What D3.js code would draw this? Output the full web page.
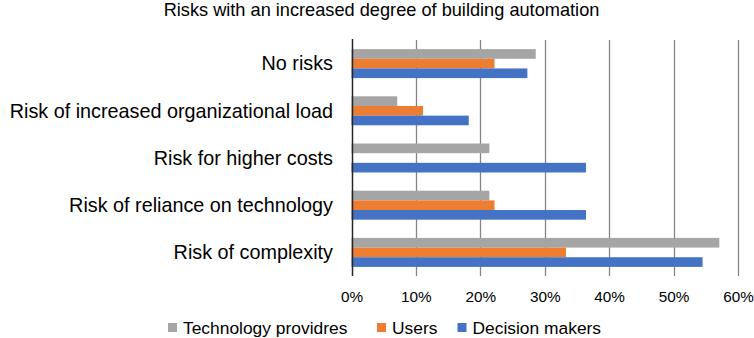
<!DOCTYPE html>
<html>
<head>
<meta charset="utf-8">
<script src="https://cdn.jsdelivr.net/npm/d3@7"></script>
<style>
  html, body { margin: 0; padding: 0; background: #fff; }
  svg { display: block; font-family: "Liberation Sans", Arial, sans-serif; }
</style>
</head>
<body>
<svg id="chart" width="754" height="338"></svg>
<script>
const title = "Risks with an increased degree of building automation";
const categories = [
  "No risks",
  "Risk of increased organizational load",
  "Risk for higher costs",
  "Risk of reliance on technology",
  "Risk of complexity"
];
const seriesNames = ["Technology providres", "Users", "Decision makers"];
const seriesColors = ["#A5A5A5", "#ED7D31", "#4472C4"];
const technologyProviders = [0.286, 0.071, 0.214, 0.214, 0.571];
const users = [0.222, 0.111, 0.0, 0.222, 0.333];
const decisionMakers = [0.273, 0.182, 0.364, 0.364, 0.545];
const tickValues = [0, 0.1, 0.2, 0.3, 0.4, 0.5, 0.6];

const seriesValues = [technologyProviders, users, decisionMakers];

const svg = d3.select("#chart");
const plot = { left: 351.5, right: 738, top: 40, bottom: 276 };

const x = d3.scaleLinear().domain([0, 0.6]).range([plot.left, plot.right]);
const y = d3.scaleBand().domain(categories).range([plot.top, plot.bottom])
  .paddingInner(0.386).paddingOuter(0.193);
const ySub = d3.scaleBand().domain(seriesNames).range([0, y.bandwidth()]);

// Title
svg.append("text")
  .attr("x", 381.5).attr("y", 16)
  .attr("text-anchor", "middle")
  .attr("font-size", 18.2)
  .attr("fill", "#000")
  .text(title);

// Gridlines
svg.append("g").selectAll("line")
  .data(tickValues.filter(d => d > 0))
  .join("line")
  .attr("x1", d => Math.round(x(d)) + 0.5).attr("x2", d => Math.round(x(d)) + 0.5)
  .attr("y1", plot.top).attr("y2", plot.bottom)
  .attr("stroke", "#858585").attr("stroke-width", 1.3);

// Bars
const groups = svg.append("g").selectAll("g")
  .data(categories)
  .join("g")
  .attr("transform", d => `translate(0,${y(d)})`);

groups.selectAll("rect")
  .data((c, i) => seriesNames.map((s, j) => ({ s, j, v: seriesValues[j][i] })))
  .join("rect")
  .attr("x", x(0))
  .attr("y", d => ySub(d.s))
  .attr("width", d => x(d.v) - x(0))
  .attr("height", ySub.bandwidth())
  .attr("fill", d => seriesColors[d.j]);

// Vertical axis line
svg.append("line")
  .attr("x1", Math.round(x(0)) + 0.5).attr("x2", Math.round(x(0)) + 0.5)
  .attr("y1", plot.top - 1).attr("y2", plot.bottom)
  .attr("stroke", "#262626").attr("stroke-width", 1.5);

// Category labels
svg.append("g").selectAll("text")
  .data(categories)
  .join("text")
  .attr("x", 333)
  .attr("y", d => y(d) + y.bandwidth() / 2 + 6.8)
  .attr("text-anchor", "end")
  .attr("font-size", 19.8)
  .attr("fill", "#000")
  .text(d => d);

// X axis tick labels
const xAxis = d3.axisBottom(x).tickValues(tickValues)
  .tickFormat(d3.format(".0%")).tickSize(0).tickPadding(0);
const gx = svg.append("g")
  .attr("transform", `translate(0,${plot.bottom})`)
  .call(xAxis);
gx.select(".domain").remove();
gx.selectAll("text")
  .attr("font-size", 15.3)
  .attr("font-family", "Liberation Sans, Arial, sans-serif")
  .attr("fill", "#000")
  .attr("dy", null)
  .attr("y", 26);

// Legend
const legend = svg.append("g");
const legendX = [168, 377, 457.5];
seriesNames.forEach((s, j) => {
  const g = legend.append("g").attr("transform", `translate(${legendX[j]},0)`);
  g.append("rect").attr("x", 0).attr("y", 323).attr("width", 9).attr("height", 9)
    .attr("fill", seriesColors[j]);
  g.append("text").attr("x", 15).attr("y", 333.5)
    .attr("font-size", 17.4).attr("fill", "#000").text(s);
});
</script>
</body>
</html>
